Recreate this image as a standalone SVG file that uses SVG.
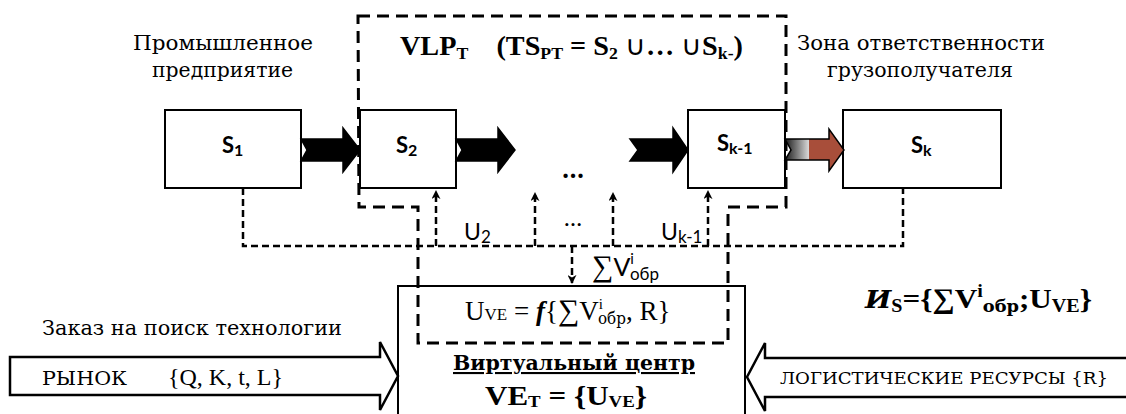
<svg xmlns="http://www.w3.org/2000/svg" width="1126" height="414" viewBox="0 0 1126 414">
<style>
.box{fill:#fff;stroke:#000;stroke-width:2}
.lbl{font-family:Lato,"Open Sans",sans-serif;font-weight:bold;fill:#000}
.sans{font-family:Lato,"Open Sans",sans-serif;fill:#000}
.serif{font-family:"Liberation Serif","Times New Roman",serif;fill:#000}
.cyr{font-family:"DejaVu Serif","Liberation Serif",serif;fill:#000}
.bs{font-family:"Liberation Serif","Times New Roman",serif;font-weight:bold;fill:#000}
.flow{stroke:#000;stroke-width:1.5}
.fb{fill:none;stroke:#000;stroke-width:2.5;stroke-dasharray:7 4}
.zone{fill:none;stroke:#000;stroke-width:3;stroke-dasharray:12 7}
.big{fill:#fff;stroke:#000;stroke-width:2.5}
</style>
<defs>
<marker id="ah" viewBox="0 0 10 10" refX="9" refY="5" markerWidth="9" markerHeight="9" markerUnits="userSpaceOnUse" orient="auto">
<path d="M0,0 L10,5 L0,10 L3,5 z" fill="#000"/>
</marker>
<linearGradient id="rg" gradientUnits="userSpaceOnUse" x1="785" y1="0" x2="843" y2="0">
<stop offset="0" stop-color="#1a1a1a"/>
<stop offset="0.41" stop-color="#d8d8d8"/>
<stop offset="0.41" stop-color="#a84e3a"/>
<stop offset="1" stop-color="#a84e3a"/>
</linearGradient>
</defs>

<g id="top-labels">
<text class="cyr" font-size="20" x="133" y="50" textLength="180" lengthAdjust="spacingAndGlyphs">Промышленное</text>
<text class="cyr" font-size="20" x="152" y="77" textLength="141" lengthAdjust="spacingAndGlyphs">предприятие</text>
<text class="cyr" font-size="20" x="797" y="50" textLength="248" lengthAdjust="spacingAndGlyphs">Зона ответственности</text>
<text class="cyr" font-size="20" x="827" y="77" textLength="186" lengthAdjust="spacingAndGlyphs">грузополучателя</text>
</g>

<g id="ve-center">
<rect x="398" y="286" width="347" height="140" fill="#fff" stroke="#000" stroke-width="2"/>
<text class="serif" x="465" y="320" font-size="27">U<tspan font-size="17">VE</tspan> = <tspan font-style="italic" font-weight="bold">f</tspan>{<tspan font-size="30">∑</tspan>V<tspan font-size="15" dy="-11">i</tspan><tspan font-size="16" font-family="DejaVu Serif,serif" dx="-5" dy="15" textLength="28" lengthAdjust="spacingAndGlyphs">обр</tspan><tspan dy="-4">, R}</tspan></text>
<text class="cyr" x="453" y="370" font-size="21" font-weight="bold" text-decoration="underline" textLength="242" lengthAdjust="spacingAndGlyphs">Виртуальный центр</text>
<text class="bs" x="485" y="405" font-size="28" textLength="162" lengthAdjust="spacingAndGlyphs">VE<tspan font-size="17" dy="2">T</tspan><tspan dy="-2"> = {U</tspan><tspan font-size="17" dy="2">VE</tspan><tspan dy="-2">}</tspan></text>
</g>

<g id="vlp-zone">
<path class="zone" d="M358,16 H786 V207 H728 V343 H418 V207 H359 Z"/>
<text class="bs" x="400" y="55" font-size="27" textLength="343" lengthAdjust="spacingAndGlyphs">VLP<tspan font-size="17" dy="4">T</tspan><tspan dy="-4" xml:space="preserve">    (TS</tspan><tspan font-size="17" dy="4">PT</tspan><tspan dy="-4"> = S</tspan><tspan font-size="17" dy="4">2</tspan><tspan dy="-4" font-weight="normal" font-family="Lato,sans-serif"> ∪</tspan><tspan>… </tspan><tspan font-weight="normal" font-family="Lato,sans-serif">∪</tspan><tspan>S</tspan><tspan font-size="17" dy="4">k-</tspan><tspan dy="-4">)</tspan></text>
</g>

<g id="s1"><rect class="box" x="165" y="110" width="136" height="78"/><text class="lbl" font-size="22" x="222" y="153">S<tspan font-size="16" dy="3">1</tspan></text></g>
<g id="s2"><rect class="box" x="360" y="110" width="96" height="78"/><text class="lbl" font-size="22" x="396" y="153">S<tspan font-size="16" dy="3">2</tspan></text></g>
<g id="sk1"><rect class="box" x="688" y="110" width="97" height="78"/><text class="lbl" font-size="22" x="717" y="151">S<tspan font-size="16" dy="3">k-1</tspan></text></g>
<g id="sk"><rect class="box" x="843" y="110" width="158" height="78"/><text class="lbl" font-size="22" x="911" y="153">S<tspan font-size="16" dy="3">k</tspan></text></g>
<g id="ellipsis"><text class="lbl" x="573" y="178" font-size="28" text-anchor="middle">…</text></g>

<g id="connectors">
<path class="flow" d="M301,139 H343 V128 L360,150 L343,172 V161 H301 L307,150 Z" fill="#000"/>
<path class="flow" d="M456,139 H498 V128 L515,150 L498,172 V161 H456 L462,150 Z" fill="#000"/>
<path class="flow" d="M630,139 H673 V128 L688,150 L673,172 V161 H630 L638,150 Z" fill="#000"/>
<path class="flow" d="M785,139 H829 V129 L844,150 L829,171 V160 H785 L791,150 Z" fill="url(#rg)"/>
<path class="fb" d="M243,188 V246 H903 V188"/>
<path class="fb" d="M436,246 V191" marker-end="url(#ah)"/>
<path class="fb" d="M535,246 V193" marker-end="url(#ah)"/>
<path class="fb" d="M613,246 V193" marker-end="url(#ah)"/>
<path class="fb" d="M708,246 V191" marker-end="url(#ah)"/>
<path class="fb" d="M572,246 V283" marker-end="url(#ah)"/>
<text class="sans" x="464" y="240" font-size="23">U<tspan font-size="17" dy="3">2</tspan></text>
<text class="sans" x="573" y="226" font-size="24" text-anchor="middle">…</text>
<text class="sans" x="661" y="240" font-size="23">U<tspan font-size="17" dy="3">k-1</tspan></text>
<text class="sans" x="592" y="276" font-size="25"><tspan font-family="Liberation Serif,serif" font-size="30">∑</tspan>V<tspan font-size="15" dy="-12">i</tspan><tspan font-size="17" dx="-4" dy="16">обр</tspan></text>
</g>

<g id="market">
<path class="big" d="M10,357 H380 V342 L398,376 L380,410 V395 H10 Z"/>
<text class="cyr" font-size="20" x="42" y="335" textLength="300" lengthAdjust="spacingAndGlyphs">Заказ на поиск технологии</text>
<text class="cyr" x="42" y="385" font-size="19" textLength="85" lengthAdjust="spacingAndGlyphs">РЫНОК</text>
<text class="serif" x="168" y="385" font-size="24">{Q, K, t, L}</text>
</g>

<g id="resources">
<path class="big" d="M1130,358 H765 V343 L747,377 L765,411 V397 H1130 Z"/>
<text class="cyr" x="780" y="384" font-size="16" textLength="328" lengthAdjust="spacingAndGlyphs">ЛОГИСТИЧЕСКИЕ РЕСУРСЫ {R}</text>
</g>

<g id="formula">
<text class="bs" x="865" y="308" font-size="28" textLength="227" lengthAdjust="spacingAndGlyphs"><tspan font-style="italic" font-family="DejaVu Serif,serif" font-size="25">И</tspan><tspan font-size="18" dy="4">S</tspan><tspan dy="-4">={∑V</tspan><tspan font-size="18" dy="-11">i</tspan><tspan font-size="16" font-family="DejaVu Serif,serif" dy="15">обр</tspan><tspan dy="-4">;U</tspan><tspan font-size="18" dy="4">VE</tspan><tspan dy="-4">}</tspan></text>
</g>
</svg>
